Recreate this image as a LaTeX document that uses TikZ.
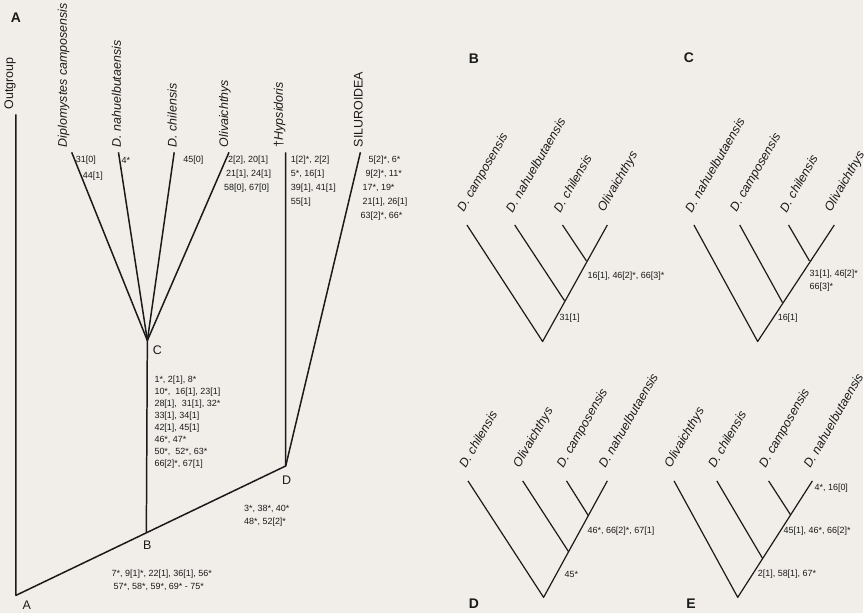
\documentclass[tikz,border=0pt]{standalone}
\usepackage{fontspec}
\setmainfont{Liberation Sans}
\usetikzlibrary{positioning}
\definecolor{paper}{HTML}{F1EEE9}
\definecolor{ink}{HTML}{1A1A1A}

\tikzset{
  branch/.style={ink,line width=1.5pt,line join=round},
  twig/.style={ink,line width=1.2pt,line join=round},
  taxon/.style={rotate=90,anchor=west,inner sep=0pt,text=ink,font=\fontsize{12.5}{14}\selectfont},
  taxsmall/.style={rotate=60,anchor=west,inner sep=0pt,text=ink,font=\fontsize{12.5}{14}\selectfont\itshape},
  chars/.style={anchor=west,inner sep=0pt,text=ink,font=\fontsize{9}{10}\selectfont},
  vertex/.style={inner sep=0pt,text=ink,font=\fontsize{12.5}{14}\selectfont},
  panel/.style={inner sep=0pt,text=ink,font=\fontsize{14}{16}\selectfont\bfseries}
}

\begin{document}
\begin{tikzpicture}[x=1pt,y=-1pt]
  \fill[paper] (0,0) rectangle (867,616);

  % panel A: full tree
  \coordinate (A) at (16,598);
  \coordinate (B) at (147,535);
  \coordinate (C) at (148,342);
  \coordinate (D) at (287,468);
  \coordinate (tOut) at (16,115);
  \foreach \n/\x in {Dip/72,Nah/119,Chi/175,Oli/230,Hyp/287,Sil/362}
    \coordinate (t\n) at (\x,153);

  \draw[branch] (tOut) -- (A) -- (D) -- (tHyp);
  \draw[branch] (D) -- (tSil);
  \draw[branch] (B) -- (C);
  \foreach \n in {Dip,Nah,Chi,Oli}
    \draw[branch] (C) -- (t\n);

  \node[taxon] (lOut) at (10,110) {Outgroup};
  \node[taxon,font=\fontsize{12.5}{14}\selectfont\itshape] (lDip) at (64,148) {Diplomystes camposensis};
  \node[taxon,font=\fontsize{12.5}{14}\selectfont\itshape] (lNah) at (117,148) {D. nahuelbutaensis};
  \node[taxon,font=\fontsize{12.5}{14}\selectfont\itshape] (lChi) at (173,148) {D. chilensis};
  \node[taxon,font=\fontsize{12.5}{14}\selectfont\itshape] (lOli) at (226,148) {Olivaichthys};
  \node[taxon] (lHyp) at (281,148) {†\textit{Hypsidoris}};
  \node[taxon] (lSil) at (360,148) {SILUROIDEA};

  \node[vertex] (vA) at (27,608) {A};
  \node[vertex] (vB) at (148,548) {B};
  \node[vertex] (vC) at (158,352) {C};
  \node[vertex] (vD) at (288,482) {D};

  % character changes
  \node[chars] (kDip1) at (76,161) {31[0]};
  \node[chars] (kDip2) at (83,177) {44[1]};
  \node[chars] (kNah) at (122,161) {4*};
  \node[chars] (kChi) at (184,161) {45[0]};
  \foreach \t/\x [count=\k] in {{2[2], 20[1]}/229,{21[1], 24[1]}/227,{58[0], 67[0]}/225}
    \node[chars] (kOli\k) at (\x,{147+14*\k}) {\t};
  \foreach \t [count=\k] in {{1[2]*, 2[2]},{5*, 16[1]},{39[1], 41[1]},{55[1]}}
    \node[chars] (kHyp\k) at (292,{147+14*\k}) {\t};
  \foreach \t/\x [count=\k] in {{5[2]*, 6*}/370,{9[2]*, 11*}/367,{17*, 19*}/364,{21[1], 26[1]}/364,{63[2]*, 66*}/362}
    \node[chars] (kSil\k) at (\x,{147+14*\k}) {\t};
  \foreach \t [count=\k] in {{1*, 2[1], 8*},{10*,\ \ 16[1], 23[1]},{28[1],\ \ 31[1], 32*},{33[1], 34[1]},
      {42[1], 45[1]},{46*, 47*},{50*,\ \ 52*, 63*},{66[2]*, 67[1]}}
    \node[chars] (kC\k) at (155,{370+12*\k}) {\t};
  \node[chars] (kD1) at (245,511) {3*, 38*, 40*};
  \node[chars] (kD2) at (245,524) {48*, 52[2]*};
  \node[chars] (kB1) at (112,577) {7*, 9[1]*, 22[1], 36[1], 56*};
  \node[chars] (kB2) at (114,590) {57*, 58*, 59*, 69* - 75*};

  \node[panel] (pA) at (16,18) {A};

  % panel B
  \coordinate (bR) at (545,343);
  \coordinate (bN2) at (567,302);
  \coordinate (bN3) at (589,262);
  \foreach \i/\x in {1/469,2/517,3/565,4/610}
    \coordinate (bL\i) at (\x,226);
  \draw[twig] (bL1) -- (bR) -- (bL4);
  \draw[twig] (bL2) -- (bN2);
  \draw[twig] (bL3) -- (bN3);
  \foreach \i/\t in {1/D. camposensis,2/D. nahuelbutaensis,3/D. chilensis,4/Olivaichthys}
    \node[taxsmall] (bT\i) at ([shift={(-6,-14)}]bL\i) {\t};
  \node[chars] (bK1) at (590,277) {16[1], 46[2]*, 66[3]*};
  \node[chars] (bK2) at (562,320) {31[1]};
  \node[panel] (pB) at (476,59) {B};

  % panel C
  \coordinate (cR) at (761,343);
  \coordinate (cN2) at (786,304);
  \coordinate (cN3) at (813,262);
  \foreach \i/\x in {1/697,2/743,3/792,4/838}
    \coordinate (cL\i) at (\x,226);
  \draw[twig] (cL1) -- (cR) -- (cL4);
  \draw[twig] (cL2) -- (cN2);
  \draw[twig] (cL3) -- (cN3);
  \foreach \i/\t in {1/D. nahuelbutaensis,2/D. camposensis,3/D. chilensis,4/Olivaichthys}
    \node[taxsmall] (cT\i) at ([shift={(-6,-14)}]cL\i) {\t};
  \node[chars] (cK1) at (813,275) {31[1], 46[2]*};
  \node[chars] (cK2) at (813,288) {66[3]*};
  \node[chars] (cK3) at (781,320) {16[1]};
  \node[panel] (pC) at (692,58) {C};

  % panel D
  \coordinate (dR) at (546,600);
  \coordinate (dN2) at (571,554);
  \coordinate (dN3) at (591,518);
  \foreach \i/\x in {1/470,2/525,3/569,4/610}
    \coordinate (dL\i) at (\x,483);
  \draw[twig] (dL1) -- (dR) -- (dL4);
  \draw[twig] (dL2) -- (dN2);
  \draw[twig] (dL3) -- (dN3);
  \foreach \i/\t in {1/D. chilensis,2/Olivaichthys,3/D. camposensis,4/D. nahuelbutaensis}
    \node[taxsmall] (dT\i) at ([shift={(-6,-14)}]dL\i) {\t};
  \node[chars] (dK1) at (590,534) {46*, 66[2]*, 67[1]};
  \node[chars] (dK2) at (567,577) {45*};
  \node[panel] (pD) at (476,606) {D};

  % panel E
  \coordinate (eR) at (741,600);
  \coordinate (eN2) at (766,561);
  \coordinate (eN3) at (794,517);
  \foreach \i/\x in {1/677,2/720,3/772,4/816}
    \coordinate (eL\i) at (\x,483);
  \draw[twig] (eL1) -- (eR) -- (eL4);
  \draw[twig] (eL2) -- (eN2);
  \draw[twig] (eL3) -- (eN3);
  \foreach \i/\t in {1/Olivaichthys,2/D. chilensis,3/D. camposensis,4/D. nahuelbutaensis}
    \node[taxsmall] (eT\i) at ([shift={(-6,-14)}]eL\i) {\t};
  \node[chars] (eK1) at (818,490) {4*, 16[0]};
  \node[chars] (eK2) at (787,534) {45[1], 46*, 66[2]*};
  \node[chars] (eK3) at (761,577) {2[1], 58[1], 67*};
  \node[panel] (pE) at (694,606) {E};
\end{tikzpicture}
\end{document}
